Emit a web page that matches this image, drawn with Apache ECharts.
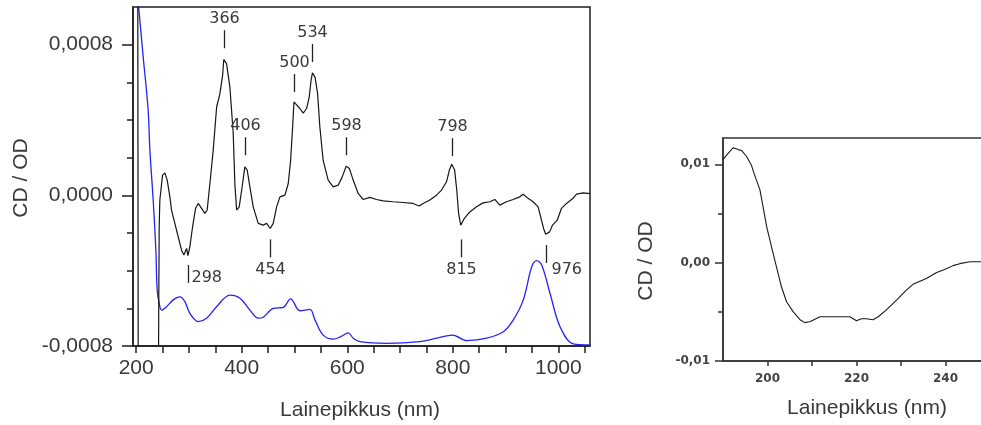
<!DOCTYPE html>
<html>
<head>
<meta charset="utf-8">
<script src="https://cdn.jsdelivr.net/npm/echarts@6/dist/echarts.min.js"></script>
<style>
  html, body { margin: 0; padding: 0; background: #fff; }
  #chart { width: 981px; height: 425px; }
</style>
</head>
<body>
<div id="chart"></div>
<script>
// Visible / near-IR CD spectrum (CD/OD, in units of 1e-4) against wavelength (nm)
const visWavelength = [203.0, 204.0, 241.7, 243.6, 244.9, 250.0, 254.4, 258.8, 263.9, 267.0, 273.3, 279.6, 286.0, 290.4, 295.5, 298.0, 301.8, 306.9, 312.6, 317.6, 324.0, 330.2, 334.6, 339.7, 346.0, 352.5, 358.7, 363.8, 366.0, 371.3, 374.4, 377.6, 383.9, 387.1, 390.4, 395.3, 401.7, 406.0, 410.4, 415.5, 421.8, 431.3, 440.7, 447.3, 454.0, 459.7, 466.2, 472.4, 481.9, 488.2, 492.7, 496.5, 499.0, 500.5, 510.2, 516.5, 523.0, 527.9, 531.5, 534.0, 539.0, 543.8, 548.1, 554.3, 563.8, 573.3, 582.8, 590.5, 598.0, 604.0, 611.2, 620.7, 630.1, 642.9, 655.5, 668.0, 686.9, 705.9, 724.8, 736.2, 743.8, 756.5, 769.2, 778.7, 788.1, 793.5, 798.0, 803.5, 807.5, 811.0, 815.0, 822.0, 832.3, 844.9, 857.5, 870.1, 879.6, 889.1, 901.7, 914.3, 927.0, 933.2, 942.7, 952.2, 961.7, 966.5, 972.0, 976.0, 983.5, 989.0, 997.8, 1006.0, 1015.5, 1028.0, 1034.5, 1047.0, 1060.0];
const visCDe4 = [12, -12, -12, -1.67, -0.25, 1.07, 1.19, 0.81, -0.08, -0.78, -1.49, -2.20, -2.91, -3.17, -2.82, -3.20, -2.73, -1.67, -0.69, -0.43, -0.69, -0.96, -0.78, 0.63, 2.40, 4.69, 5.40, 6.37, 7.21, 6.99, 6.37, 5.75, 3.30, 0.54, -0.78, -0.61, 0.63, 1.51, 1.34, 0.45, -0.61, -1.49, -1.58, -1.49, -1.76, -1.49, -0.61, -0.08, 0.01, 0.63, 1.87, 3.63, 4.96, 5.05, 4.61, 4.37, 4.61, 5.22, 6.11, 6.50, 6.28, 5.40, 3.63, 1.87, 0.81, 0.45, 0.54, 0.98, 1.55, 1.43, 0.81, 0.10, -0.22, -0.11, -0.22, -0.29, -0.34, -0.38, -0.43, -0.57, -0.43, -0.25, 0.01, 0.28, 0.72, 1.34, 1.65, 1.34, 0.28, -0.96, -1.58, -1.22, -0.88, -0.61, -0.40, -0.34, -0.22, -0.52, -0.34, -0.22, -0.08, 0.06, -0.16, -0.34, -0.61, -1.14, -1.76, -2.07, -1.94, -1.58, -1.32, -0.69, -0.43, -0.16, 0.06, 0.13, 0.09];

// Absorption spectrum (normalised OD) on the same wavelength range
const absWavelength = [203.5, 213.3, 222.7, 226.0, 232.2, 237.3, 239.8, 243.6, 248.2, 257.6, 270.1, 282.8, 292.3, 301.8, 317.5, 333.5, 352.4, 377.6, 396.6, 415.5, 431.3, 440.8, 459.7, 478.7, 492.7, 510.3, 529.3, 538.8, 554.5, 573.5, 589.4, 601.9, 611.4, 624.1, 674.7, 737.8, 769.5, 799.8, 826.3, 864.3, 895.7, 914.7, 933.6, 949.6, 959.0, 968.5, 984.3, 1003.2, 1028.4, 1060.0];
const absOD = [1.02, 0.853, 0.696, 0.578, 0.431, 0.283, 0.165, 0.126, 0.106, 0.116, 0.136, 0.145, 0.131, 0.096, 0.072, 0.082, 0.116, 0.150, 0.141, 0.106, 0.082, 0.085, 0.111, 0.114, 0.139, 0.104, 0.108, 0.077, 0.032, 0.020, 0.029, 0.039, 0.023, 0.013, 0.008, 0.013, 0.023, 0.032, 0.016, 0.023, 0.042, 0.077, 0.136, 0.234, 0.252, 0.239, 0.155, 0.057, 0.006, 0.003];

// Marked band positions (nm), the CD/OD level where each marker starts (1e-4) and marker side
const bandNm = [366, 406, 500, 534, 598, 798, 298, 454, 815, 976];
const bandLevelE4 = [7.81, 2.13, 5.49, 7.08, 2.13, 2.08, -3.70, -2.34, -2.34, -2.64];
const bandSide = ['up', 'up', 'up', 'up', 'up', 'up', 'downRight', 'down', 'down', 'downRightLow'];

// Far-UV CD spectrum
const uvWavelength = [190.0, 191.1, 192.3, 193.4, 194.2, 195.3, 196.4, 197.1, 198.3, 199.0, 199.8, 200.9, 202.0, 203.1, 204.3, 205.8, 207.3, 208.4, 209.5, 211.8, 214.7, 218.5, 220.0, 221.1, 222.2, 223.7, 224.9, 226.7, 229.0, 231.2, 232.7, 235.7, 238.0, 239.8, 241.7, 243.2, 245.5, 247.9, 250.0];
const uvCD = [0.0105, 0.0111, 0.0117, 0.0115, 0.0114, 0.0108, 0.0099, 0.0089, 0.0074, 0.0057, 0.0037, 0.0016, -0.0004, -0.0024, -0.0040, -0.0050, -0.0058, -0.0061, -0.0060, -0.0055, -0.0055, -0.0055, -0.0059, -0.0057, -0.0057, -0.0058, -0.0055, -0.0048, -0.0038, -0.0028, -0.0022, -0.0016, -0.0010, -0.0007, -0.0003, -0.0001, 0.0001, 0.0001, 0.0001];

// Tick positions
const visMajorX = [200, 400, 600, 800, 1000];
const visAllX = [200, 250, 300, 350, 400, 450, 500, 550, 600, 650, 700, 750, 800, 850, 900, 950, 1000, 1050];
const visMajorY = [-0.0008, 0, 0.0008];
const visMinorY = [-0.0006, -0.0004, -0.0002, 0.0002, 0.0004, 0.0006];
const uvMajorX = [200, 220, 240];
const uvAllX = [200, 210, 220, 230, 240];
const uvMajorY = [-0.01, 0, 0.01];
const uvMinorY = [-0.005, 0.005];

// Axis ranges
const visXRange = [194, 1060];
const visYRange = [-0.0008, 0.001];
const uvXRange = [190, 250];
const uvYRange = [-0.01, 0.01268];

const FONT = 'Liberation Sans, Arial, sans-serif';
const AX = '#1e1e1e';
const TXT = '#3a3a3a';

const zip = (xs, ys, k) => xs.map((x, i) => [x, ys[i] * (k || 1)]);

function valueAxis(o) {
  return Object.assign({
    type: 'value',
    splitLine: { show: false },
    axisLine: { show: true, onZero: false, lineStyle: { color: AX, width: 1.5 } },
    axisLabel: { show: false }
  }, o);
}
// axis that only carries the short (minor) ticks; its own line stays invisible
function minorAxis(o, color, len, values) {
  return valueAxis(Object.assign({
    axisLine: { show: true, onZero: false, lineStyle: { color: color, width: 1, opacity: 0 } },
    axisTick: { show: true, length: len, customValues: values, lineStyle: { color: color, width: 1.5, opacity: 1 } }
  }, o));
}

const chart = echarts.init(document.getElementById('chart'), null, { renderer: 'canvas' });

chart.setOption({
  animation: false,
  backgroundColor: '#fff',
  textStyle: { fontFamily: FONT },
  grid: [
    { left: 133, top: 7, width: 457, height: 339, show: true, borderColor: AX, borderWidth: 1.5, backgroundColor: 'transparent', outerBoundsMode: 'none' },
    { left: 723, top: 138, width: 267, height: 223, show: true, borderColor: '#333', borderWidth: 1.5, backgroundColor: 'transparent', outerBoundsMode: 'none' }
  ],
  xAxis: [
    valueAxis({ gridIndex: 0, position: 'bottom', min: visXRange[0], max: visXRange[1],
      axisTick: { show: true, length: 7, customValues: visAllX, lineStyle: { color: AX, width: 1.5 } },
      axisLabel: { show: true, customValues: visMajorX, fontSize: 21, color: TXT, margin: 12, fontFamily: FONT,
        formatter: v => String(v) } }),
    valueAxis({ gridIndex: 1, position: 'bottom', min: uvXRange[0], max: uvXRange[1],
      axisLine: { show: true, onZero: false, lineStyle: { color: '#333', width: 1.5 } },
      axisTick: { show: true, length: 5, customValues: uvAllX, lineStyle: { color: '#333', width: 1.5 } },
      axisLabel: { show: true, customValues: uvMajorX, fontSize: 12, fontWeight: 'bold', color: '#444', margin: 12, fontFamily: 'DejaVu Sans',
        formatter: v => String(v) } })
  ],
  yAxis: [
    valueAxis({ gridIndex: 0, position: 'left', min: visYRange[0], max: visYRange[1],
      axisTick: { show: true, length: 11, customValues: visMajorY, lineStyle: { color: AX, width: 1.5 } },
      axisLabel: { show: true, customValues: visMajorY, fontSize: 21, color: TXT, margin: 20, fontFamily: FONT,
        formatter: v => v.toFixed(4).replace('.', ',') } }),
    minorAxis({ gridIndex: 0, position: 'left', min: visYRange[0], max: visYRange[1] }, AX, 6, visMinorY),
    { type: 'value', gridIndex: 0, min: 0, max: 1, show: false },
    valueAxis({ gridIndex: 1, position: 'left', min: uvYRange[0], max: uvYRange[1],
      axisLine: { show: true, onZero: false, lineStyle: { color: '#333', width: 1.5 } },
      axisTick: { show: true, length: 8, customValues: uvMajorY, lineStyle: { color: '#333', width: 1.5 } },
      axisLabel: { show: true, customValues: uvMajorY, fontSize: 12, fontWeight: 'bold', color: '#444', margin: 13, fontFamily: 'DejaVu Sans',
        formatter: v => v.toFixed(2).replace('.', ',') } }),
    minorAxis({ gridIndex: 1, position: 'left', min: uvYRange[0], max: uvYRange[1] }, '#333', 5, uvMinorY)
  ],
  graphic: [
    { type: 'text', x: 21, y: 178, rotation: Math.PI / 2,
      style: { text: 'CD / OD', fontSize: 21, fontFamily: FONT, fill: TXT, align: 'center', verticalAlign: 'middle' } },
    { type: 'text', x: 360, y: 410,
      style: { text: 'Lainepikkus (nm)', fontSize: 21, fontFamily: FONT, fill: TXT, align: 'center', verticalAlign: 'middle' } },
    { type: 'text', x: 646, y: 261, rotation: Math.PI / 2,
      style: { text: 'CD / OD', fontSize: 21, fontFamily: FONT, fill: TXT, align: 'center', verticalAlign: 'middle' } },
    { type: 'text', x: 867, y: 408,
      style: { text: 'Lainepikkus (nm)', fontSize: 21, fontFamily: FONT, fill: TXT, align: 'center', verticalAlign: 'middle' } }
  ],
  series: [
    {
      name: 'Absorbanssi', type: 'line', xAxisIndex: 0, yAxisIndex: 2,
      data: zip(absWavelength, absOD), showSymbol: false, clip: true, smooth: 0.35,
      lineStyle: { color: '#2424f5', width: 1.3 }, z: 2
    },
    {
      name: 'CD (vis)', type: 'line', xAxisIndex: 0, yAxisIndex: 0,
      data: zip(visWavelength, visCDe4, 1e-4), showSymbol: false, clip: true,
      lineStyle: { color: '#151515', width: 1.2 }, z: 3
    },
    {
      name: 'Kaistat', type: 'custom', xAxisIndex: 0, yAxisIndex: 0, clip: false, z: 4,
      data: zip(bandNm, bandLevelE4, 1e-4),
      renderItem: function (params, api) {
        const i = params.dataIndex;
        const p = api.coord([api.value(0), api.value(1)]);
        const side = bandSide[i];
        const x = Math.round(p[0]) + 0.5;
        const len = 18;
        let y2, tx, ty, align;
        if (side === 'up') {
          y2 = p[1] - len; tx = x; ty = y2 - 11; align = 'center';
        } else if (side === 'down') {
          y2 = p[1] + len; tx = x; ty = y2 + 12; align = 'center';
        } else if (side === 'downRight') {
          y2 = p[1] + len; tx = x + 3; ty = p[1] + 13; align = 'left';
        } else {
          y2 = p[1] + len; tx = x + 5; ty = p[1] + 25; align = 'left';
        }
        return {
          type: 'group',
          children: [
            { type: 'line', shape: { x1: x, y1: p[1], x2: x, y2: y2 },
              style: { stroke: '#222', lineWidth: 1.3 } },
            { type: 'text',
              style: { text: String(bandNm[i]), x: tx, y: ty, align: align, verticalAlign: 'middle',
                fontSize: 16, fontFamily: 'DejaVu Sans', fill: TXT } }
          ]
        };
      }
    },
    {
      name: 'CD (UV)', type: 'line', xAxisIndex: 1, yAxisIndex: 3,
      data: zip(uvWavelength, uvCD), showSymbol: false, clip: true,
      lineStyle: { color: '#1a1a1a', width: 1.1 }
    }
  ]
});
</script>
</body>
</html>
